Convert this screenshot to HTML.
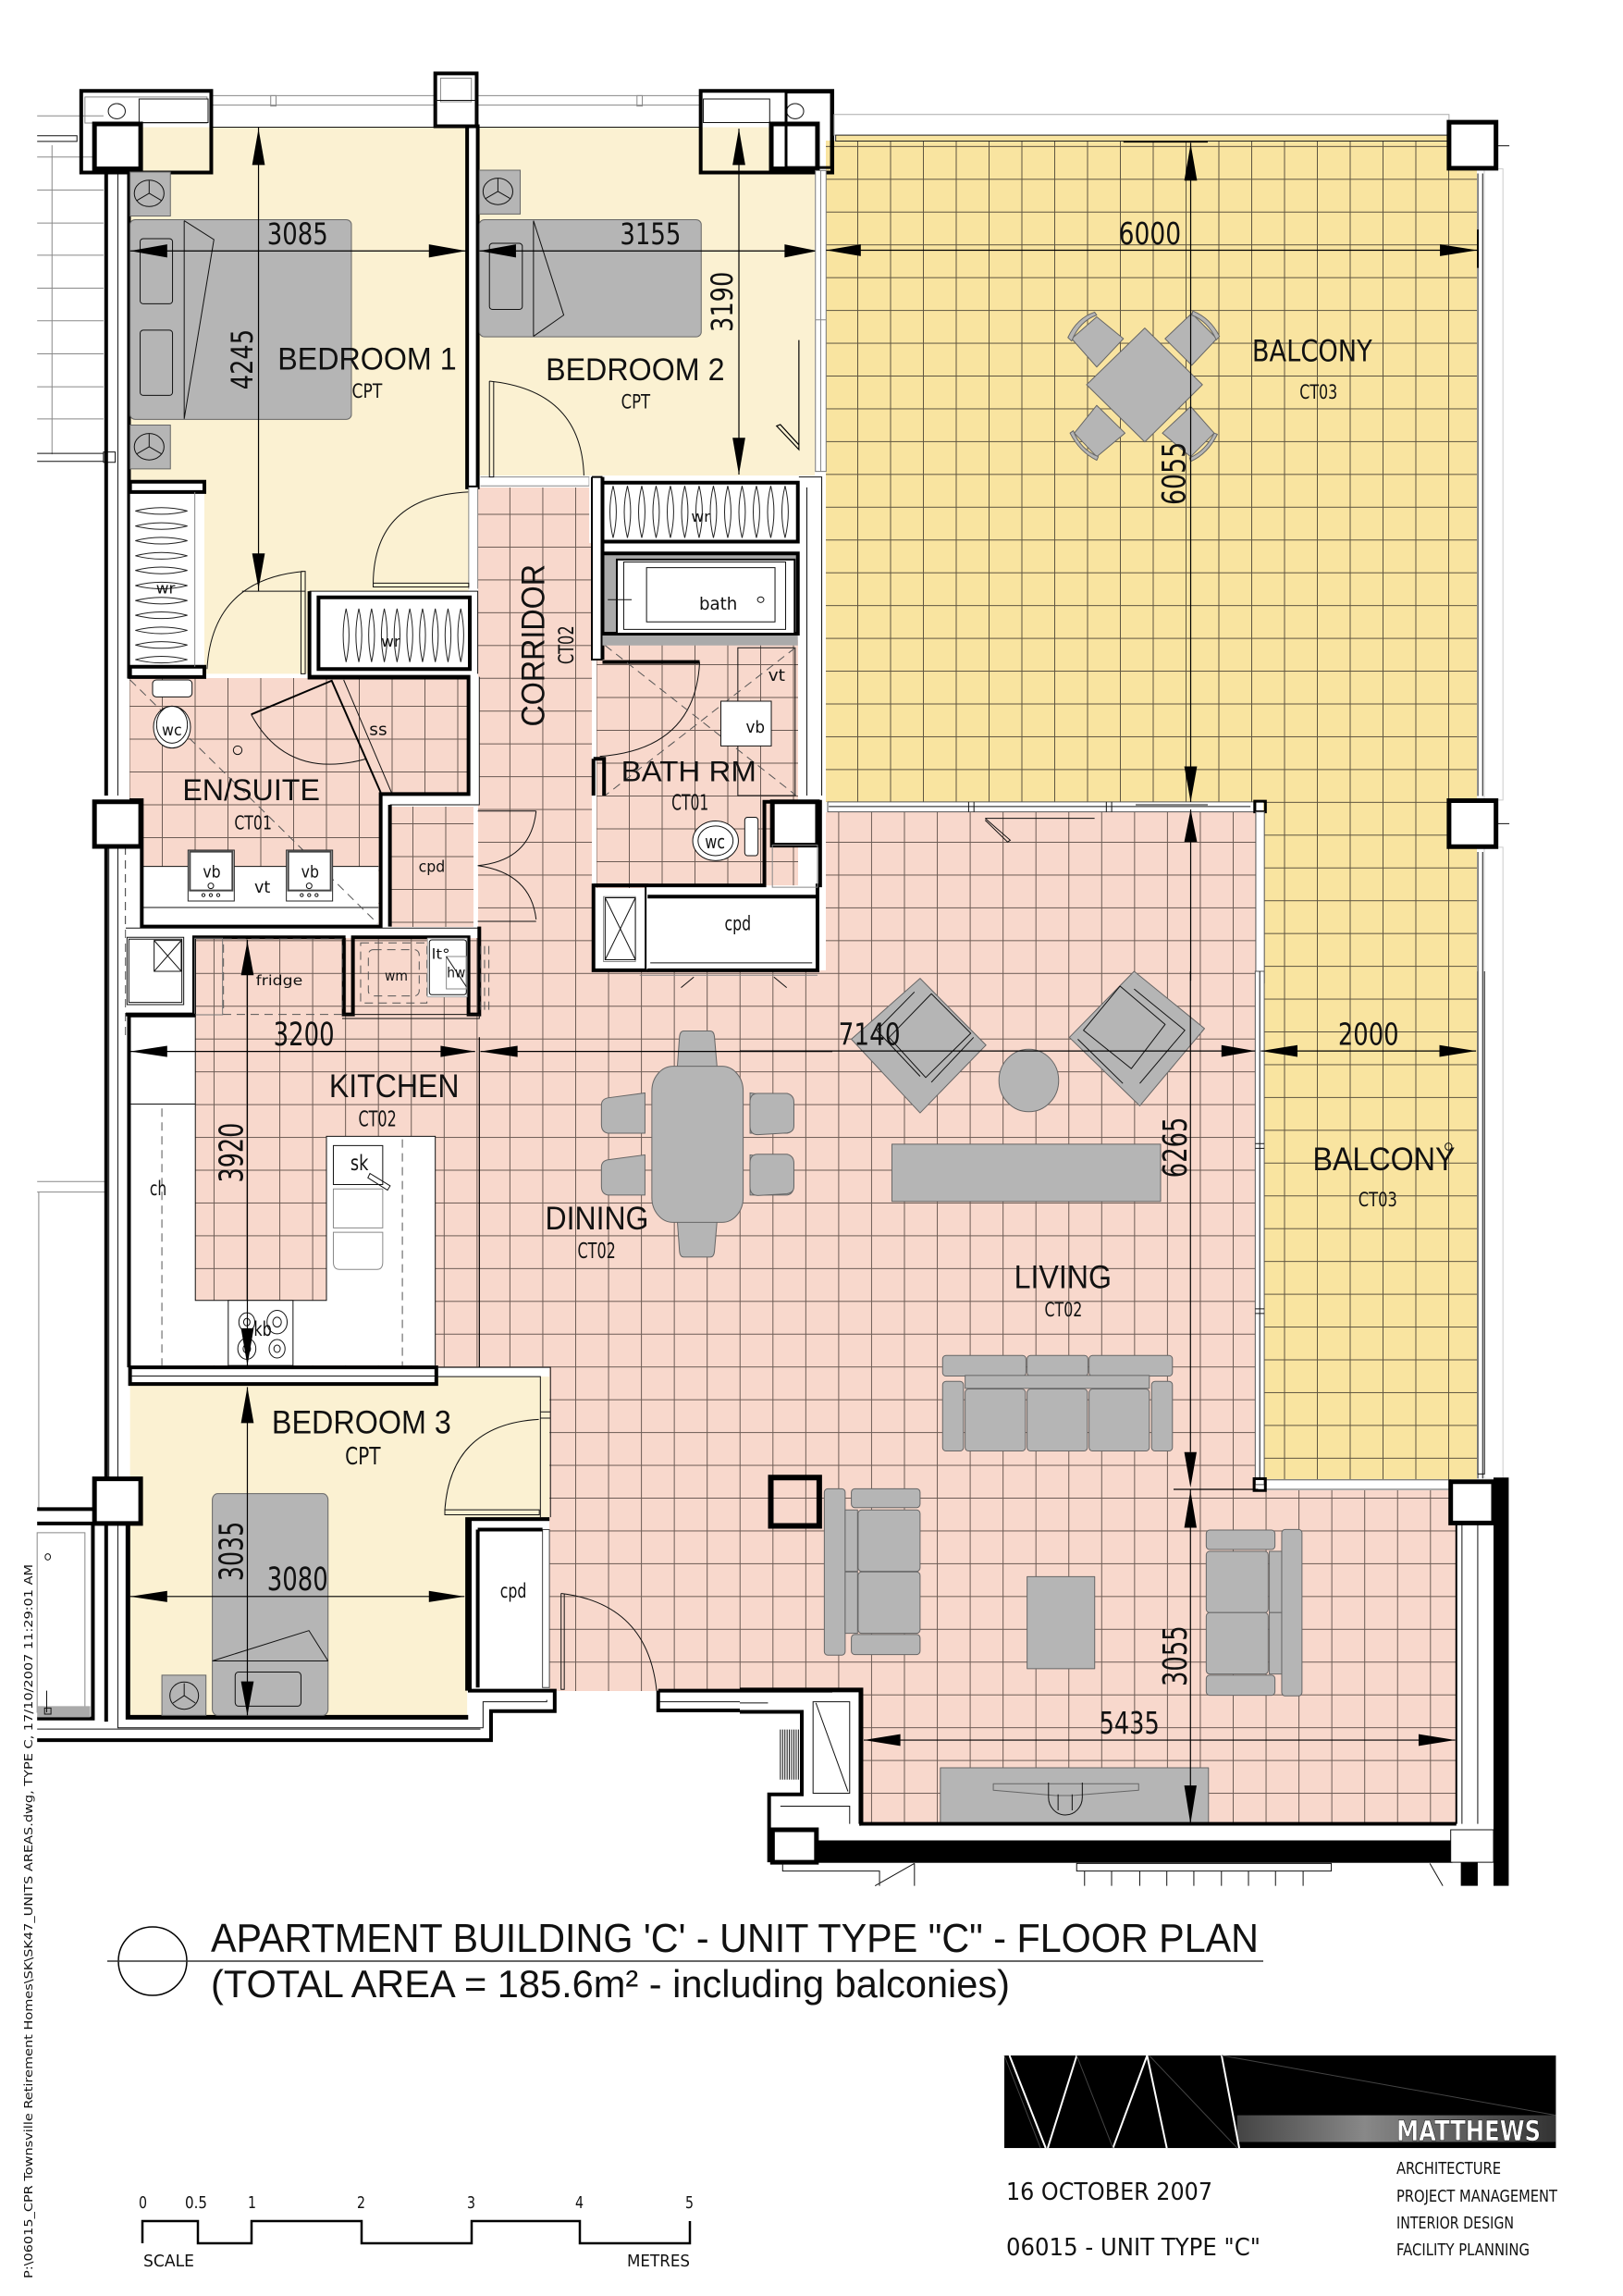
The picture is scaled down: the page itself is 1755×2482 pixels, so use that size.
<!DOCTYPE html>
<html><head><meta charset="utf-8"><style>
html,body{margin:0;padding:0;background:#fff}
svg{display:block}
svg *{vector-effect:non-scaling-stroke}
.n{fill:none}
.k{fill:none;stroke:#000;stroke-width:4}
.K{fill:none;stroke:#000;stroke-width:6}
.t{fill:none;stroke:#111;stroke-width:1}
.g{fill:none;stroke:#888;stroke-width:1}
.w{fill:#fff;stroke:#111;stroke-width:1}
.W{fill:#fff;stroke:#000;stroke-width:4}
.P{fill:#fff;stroke:#000;stroke-width:5}
.f{fill:#b5b5b5;stroke:#666;stroke-width:1}
.da{fill:none;stroke:#555;stroke-width:1;stroke-dasharray:9 6}
.a{fill:#000}
.l{fill:none;stroke:#000;stroke-width:1.2}
text{fill:#111}
.s{font-family:"Liberation Sans",sans-serif}
.d{font-family:"DejaVu Sans",sans-serif}
</style></head><body>
<svg xmlns="http://www.w3.org/2000/svg" width="1755" height="2482" viewBox="0 0 1755 2482">
<defs>
<pattern id="gB" patternUnits="userSpaceOnUse" x="927" y="193.3" width="35.5" height="35.45"><rect width="1" height="35.45" fill="#5f5540"/><rect width="35.5" height="1" fill="#5f5540"/></pattern>
<pattern id="gP" patternUnits="userSpaceOnUse" x="835.3" y="910" width="35.55" height="35.45"><rect width="1" height="35.45" fill="#6d5c55"/><rect width="35.55" height="1" fill="#6d5c55"/></pattern>
<pattern id="gE" patternUnits="userSpaceOnUse" x="175" y="763" width="35.5" height="35.5"><rect width="1" height="35.5" fill="#6d5c55"/><rect width="35.5" height="1" fill="#6d5c55"/></pattern>
<pattern id="gC" patternUnits="userSpaceOnUse" x="446" y="890" width="35.5" height="35.5"><rect width="1" height="35.5" fill="#6d5c55"/><rect width="35.5" height="1" fill="#6d5c55"/></pattern>
<pattern id="gR" patternUnits="userSpaceOnUse" x="680" y="718" width="35.5" height="35.5"><rect width="1" height="35.5" fill="#6d5c55"/><rect width="35.5" height="1" fill="#6d5c55"/></pattern>
<linearGradient id="lg" x1="0" x2="1" y1="0" y2="0"><stop offset="0" stop-color="#444"/><stop offset=".4" stop-color="#888"/><stop offset="1" stop-color="#333"/></linearGradient>
<path id="lh" d="M255 0Q304 -14 353 0Q304 14 255 0Z" fill="none" stroke="#222" stroke-width="1"/>
<path id="lv" d="M0 912Q-12 967 0 1022Q12 967 0 912Z" fill="none" stroke="#222" stroke-width="1"/>
<path id="lw" d="M0 1172Q-11 1228 0 1285Q11 1228 0 1172Z" fill="none" stroke="#222" stroke-width="1"/>
</defs>

<!-- base fills -->
<path d="M893 152H1597V1599H1366V867H893Z" fill="#F9E4A0"/>
<path d="M893 152H1597V1599H1366V867H893Z" fill="url(#gB)"/>
<path id="pk" d="M517 527H640V1049H893V878H1358V1611H1575V1972H931V1827H712V1828H594V1478H211V1014H517Z" fill="#F8D8CC"/>
<path d="M517 527H640V1049H893V878H1358V1611H1575V1972H931V1827H712V1828H594V1478H211V1014H517Z" fill="url(#gP)"/>
<path d="M140 733H507V858H412V1002H153V865H140Z" fill="#F8D8CC"/>
<path d="M140 733H507V858H412V1002H153V865H140Z" fill="url(#gE)"/>
<rect x="422" y="872" width="90" height="130" fill="#F8D8CC"/>
<rect x="422" y="872" width="90" height="130" fill="url(#gC)"/>
<rect x="645" y="692" width="218" height="268" fill="#F8D8CC"/>
<rect x="645" y="692" width="218" height="268" fill="url(#gR)"/>

<!-- Z1: top-left -->
<g transform="translate(0,60) scale(.574,.5102)">
<path d="M245 152H880V915H883V1135H580V1310H245Z" fill="#FBF1D2"/>
<rect x="900" y="152" width="635" height="738" fill="#FBF1D2"/>
<!-- outside balcony lines -->
<path class="g" d="M70 128H195M70 215H195M70 285H195M70 355H195M70 423H195M70 493H195M70 562H195M70 632H195M70 702H195M70 770H195M98 190V845"/>
<path class="t" d="M70 170H145V182H70M70 843H195V860H70"/>
<rect class="w" x="195" y="840" width="22" height="22"/>
<!-- exterior walls -->
<path class="k" d="M200 240V1568M243 240V1320"/>
<path class="t" d="M222 240V1568"/>
<!-- top strip -->
<path class="g" d="M398 85H820M398 105H820M900 85H1320M900 105H1320"/>
<rect class="g" x="510" y="85" width="10" height="22"/><rect class="g" x="1200" y="85" width="10" height="22"/>
<path class="t" d="M398 152H880M900 152H1320"/>
<rect class="k" x="153" y="75" width="245" height="173"/>
<rect class="g" x="160" y="88" width="230" height="55"/>
<rect class="w" x="262" y="92" width="130" height="50"/>
<circle class="t" cx="220" cy="118" r="16"/>
<rect class="P" x="178" y="145" width="87" height="95"/>
<rect class="k" x="820" y="38" width="78" height="112" fill="#fff"/>
<rect class="g" x="830" y="48" width="58" height="50"/>
<rect class="t" x="820" y="95" width="78" height="55"/>
<rect class="k" x="1320" y="75" width="248" height="173"/>
<rect class="w" x="1325" y="92" width="125" height="50"/>
<circle class="t" cx="1498" cy="118" r="16"/>
<rect class="P" x="1453" y="145" width="87" height="95"/>
<!-- partition -->
<rect class="W" x="880" y="150" width="20" height="765"/>
<rect fill="#fff" x="883" y="915" width="17" height="215"/>
<path class="g" d="M883 915V1130M900 915V1130"/>
<path class="g" d="M905 893H1110V912H905"/>
<!-- furniture bedrooms -->
<g>
<rect class="f" x="245" y="247" width="76" height="93"/><circle class="t" cx="281" cy="292" r="28"/><path class="t" d="M281 292V265M281 292L258 307M281 292L304 307"/>
<rect class="f" x="245" y="783" width="76" height="93"/><circle class="t" cx="281" cy="829" r="28"/><path class="t" d="M281 829V802M281 829L258 844M281 829L304 844"/>
<rect class="f" x="903" y="243" width="77" height="93"/><circle class="t" cx="938" cy="288" r="28"/><path class="t" d="M938 288V261M938 288L915 303M938 288L961 303"/>
<rect class="f" x="245" y="348" width="417" height="423" rx="10"/>
<path class="t" d="M347 350V770M347 350L403 390L347 770"/>
<rect class="t" x="264" y="388" width="61" height="138" rx="6"/><rect class="t" x="264" y="582" width="61" height="138" rx="6"/>
<rect class="f" x="903" y="348" width="418" height="248" rx="10"/>
<path class="t" d="M1005 350V595M1005 350L1062 550L1005 595"/>
<rect class="t" x="922" y="398" width="62" height="140" rx="6"/>
</g>
<!-- doors -->
<path class="t" d="M922 690V893H930V690M922 690Q1095 710 1100 890"/>
<path class="t" d="M703 1118H883V1126H703ZM703 1118Q705 935 882 925"/>
<path class="t" d="M567 1095V1310H575V1093H567M573 1093Q400 1110 390 1300"/>
<path class="l" d="M1505 603V835M1463 785L1505 835V825L1470 782Z"/>
<!-- wardrobe 1 -->
<rect x="245" y="903" width="140" height="415" fill="#fff"/>
<rect class="k" x="245" y="903" width="140" height="22"/><rect class="k" x="245" y="1295" width="140" height="22"/>
<path class="g" d="M367 925V1295"/>
<use href="#lh" y="965"/><use href="#lh" y="997"/><use href="#lh" y="1028"/><use href="#lh" y="1060"/><use href="#lh" y="1091"/><use href="#lh" y="1123"/><use href="#lh" y="1155"/><use href="#lh" y="1186"/><use href="#lh" y="1218"/><use href="#lh" y="1249"/><use href="#lh" y="1280"/>
<!-- wardrobe 2 -->
<rect x="583" y="1135" width="317" height="183" fill="#fff"/>
<path class="t" d="M456 1135H575M583 1135H900V1310"/>
<rect class="k" x="600" y="1148" width="285" height="152"/>
<path class="k" d="M583 1135V1318H885"/>
<use href="#lw" x="652"/><use href="#lw" x="676"/><use href="#lw" x="700"/><use href="#lw" x="724"/><use href="#lw" x="748"/><use href="#lw" x="772"/><use href="#lw" x="796"/><use href="#lw" x="820"/><use href="#lw" x="844"/><use href="#lw" x="868"/>
<!-- wr top -->
<rect x="1110" y="893" width="395" height="140" fill="#fff"/>
<rect class="k" x="1135" y="905" width="368" height="125"/>
<rect x="1115" y="893" width="20" height="387" fill="#fff"/>
<path class="k" d="M1135 893V1280" />
<path d="M1115 893H1135M1115 893V1280H1135" fill="none" stroke="#000" stroke-width="2"/>
<use href="#lv" x="1155"/><use href="#lv" x="1182"/><use href="#lv" x="1209"/><use href="#lv" x="1236"/><use href="#lv" x="1263"/><use href="#lv" x="1290"/><use href="#lv" x="1317"/><use href="#lv" x="1344"/><use href="#lv" x="1371"/><use href="#lv" x="1398"/><use href="#lv" x="1425"/><use href="#lv" x="1452"/><use href="#lv" x="1479"/>
<!-- bath -->
<rect x="1135" y="1055" width="368" height="195" fill="#aaa"/>
<rect class="k" x="1135" y="1055" width="368" height="170"/>
<rect x="1162" y="1068" width="335" height="157" fill="#fff" stroke="#000" stroke-width="2"/>
<rect class="t" x="1175" y="1073" width="305" height="143"/>
<rect class="t" x="1218" y="1085" width="242" height="115"/>
<circle class="t" cx="1433" cy="1153" r="6"/>
<path class="t" d="M1145 1153H1190"/>
<rect fill="#fff" x="1507" y="893" width="38" height="675"/>
<path class="t" d="M1505 893H1548V1568M1520 915V1568"/>
<rect class="t" x="1390" y="1255" width="108" height="313" fill="#fff"/>
<!-- dims -->
<path class="l" d="M487 152V1135M245 414H878M903 414H1540M1392 155V888"/>
<polygon class="a" points="245,414 315,400 315,428"/><polygon class="a" points="878,414 808,400 808,428"/>
<polygon class="a" points="903,414 972,400 972,428"/><polygon class="a" points="1540,414 1478,400 1478,428"/>
<polygon class="a" points="487,155 475,232 499,232"/><polygon class="a" points="487,1130 475,1055 499,1055"/>
<polygon class="a" points="1392,155 1380,232 1404,232"/><polygon class="a" points="1392,888 1380,810 1404,810"/>
<text class="d" x="503" y="400" font-size="62" textLength="115" lengthAdjust="spacingAndGlyphs">3085</text>
<text class="d" x="1168" y="400" font-size="62" textLength="115" lengthAdjust="spacingAndGlyphs">3155</text>
<text class="d" font-size="56" transform="translate(476,708) rotate(-90)" textLength="128" lengthAdjust="spacingAndGlyphs">4245</text>
<text class="d" font-size="56" transform="translate(1380,586) rotate(-90)" textLength="128" lengthAdjust="spacingAndGlyphs">3190</text>
<text class="s" x="523" y="665" font-size="67" textLength="337" lengthAdjust="spacingAndGlyphs">BEDROOM 1</text>
<text class="d" x="663" y="725" font-size="41" textLength="57" lengthAdjust="spacingAndGlyphs">CPT</text>
<text class="s" x="1028" y="688" font-size="67" textLength="337" lengthAdjust="spacingAndGlyphs">BEDROOM 2</text>
<text class="d" x="1170" y="748" font-size="41" textLength="55" lengthAdjust="spacingAndGlyphs">CPT</text>
<text class="s" font-size="62" transform="translate(1025,1422) rotate(-90)" textLength="344" lengthAdjust="spacingAndGlyphs">CORRIDOR</text>
<text class="d" font-size="39" transform="translate(1080,1290) rotate(-90)" textLength="82" lengthAdjust="spacingAndGlyphs">CT02</text>
<text class="d" x="294" y="1140" font-size="32" textLength="36" lengthAdjust="spacingAndGlyphs">wr</text>
<text class="d" x="1302" y="988" font-size="32" textLength="36" lengthAdjust="spacingAndGlyphs">wr</text>
<text class="d" x="718" y="1252" font-size="32" textLength="36" lengthAdjust="spacingAndGlyphs">wr</text>
<text class="d" x="1317" y="1174" font-size="36" textLength="72" lengthAdjust="spacingAndGlyphs">bath</text>
<!-- bath rm door -->
<path class="k" d="M1135 1285H1318" stroke-width="2"/>
<path class="t" d="M1318 1285Q1310 1470 1130 1485"/>
<path class="da" d="M1140 1250L1500 1568M1498 1255L1140 1568"/>
<rect class="w" x="1358" y="1368" width="95" height="95"/>
<text class="d" x="1447" y="1325" font-size="34" textLength="32" lengthAdjust="spacingAndGlyphs">vt</text>
<text class="d" x="1405" y="1435" font-size="34" textLength="36" lengthAdjust="spacingAndGlyphs">vb</text>
<path class="k" d="M1118 1490H1138V1568M1118 1490V1568"/>
<text class="s" x="1170" y="1538" font-size="62" textLength="255" lengthAdjust="spacingAndGlyphs">BATH RM</text>
</g>

<!-- Z6 ensuite & laundry -->
<g transform="translate(120,700) scale(.3333)">
<rect x="103" y="710" width="765" height="190" fill="#fff"/>
<path class="t" d="M103 710H868M103 843H868"/>
<rect x="1163" y="95" width="32" height="415" fill="#fff"/>
<path class="t" d="M1195 95V510H905"/>
<path class="k" d="M640 95H1160V475H875V905H100V495H60"/>
<path class="k" d="M905 510V905"/>
<path class="da" d="M62 105L865 895"/>
<rect x="48" y="910" width="1148" height="30" fill="#fff"/>
<path class="t" d="M48 910H1195"/>
<!-- toilet -->
<rect class="w" x="135" y="105" width="128" height="55" rx="12" fill="#fbe"/>
<ellipse class="w" cx="198" cy="258" rx="60" ry="68" fill="#fff"/>
<ellipse class="t" cx="198" cy="250" rx="50" ry="60"/>
<text class="d" x="165" y="285" font-size="50" textLength="65" lengthAdjust="spacingAndGlyphs">wc</text>
<circle class="t" cx="411" cy="333" r="14"/>
<!-- shower -->
<path class="k" d="M715 105L875 470" style="stroke-width:2"/>
<path class="t" d="M755 105L910 470"/>
<path class="k" d="M715 108L455 217" style="stroke-width:2"/>
<path class="t" d="M455 217Q570 430 825 362"/>
<text class="d" x="838" y="283" font-size="52" textLength="58" lengthAdjust="spacingAndGlyphs">ss</text>
<text class="s" x="232" y="495" font-size="98" textLength="446" lengthAdjust="spacingAndGlyphs">EN/SUITE</text>
<text class="d" x="400" y="590" font-size="60" textLength="122" lengthAdjust="spacingAndGlyphs">CT01</text>
<!-- sinks -->
<g>
<rect x="250" y="657" width="150" height="165" fill="#fff" stroke="#222" stroke-width="1"/>
<rect x="256" y="662" width="138" height="126" fill="#fff" stroke="#444" stroke-width="2"/>
<circle class="t" cx="324" cy="773" r="9"/><circle class="t" cx="300" cy="803" r="5"/><circle class="t" cx="324" cy="803" r="5"/><circle class="t" cx="348" cy="803" r="5"/>
<text class="d" x="298" y="745" font-size="52" textLength="58" lengthAdjust="spacingAndGlyphs">vb</text>
</g>
<g transform="translate(319,0)">
<rect x="250" y="657" width="150" height="165" fill="#fff" stroke="#222" stroke-width="1"/>
<rect x="256" y="662" width="138" height="126" fill="#fff" stroke="#444" stroke-width="2"/>
<circle class="t" cx="324" cy="773" r="9"/><circle class="t" cx="300" cy="803" r="5"/><circle class="t" cx="324" cy="803" r="5"/><circle class="t" cx="348" cy="803" r="5"/>
<text class="d" x="298" y="745" font-size="52" textLength="58" lengthAdjust="spacingAndGlyphs">vb</text>
</g>
<text class="d" x="465" y="795" font-size="52" textLength="52" lengthAdjust="spacingAndGlyphs">vt</text>
<text class="d" x="998" y="728" font-size="50" textLength="86" lengthAdjust="spacingAndGlyphs">cpd</text>
<!-- lower left cupboard -->
<rect x="48" y="938" width="222" height="250" fill="#fff"/>
<rect class="t" x="52" y="940" width="184" height="218"/>
<rect class="w" x="58" y="946" width="172" height="205"/>
<rect class="t" x="140" y="950" width="88" height="100"/><path class="t" d="M140 950L228 1050M228 950L140 1050"/>
<path class="k" d="M48 1190H270V940H755V1190H785V940H1160V1190H1195V905"/>
<path class="da" d="M47 645V1260"/>
<rect class="da" x="365" y="945" width="385" height="245"/>
<rect x="272" y="943" width="90" height="248" fill="none" stroke="#777"/>
<text class="d" x="470" y="1095" font-size="46" textLength="152" lengthAdjust="spacingAndGlyphs">fridge</text>
<rect class="da" x="810" y="958" width="215" height="195"/>
<rect class="da" x="835" y="980" width="165" height="150" rx="16"/>
<text class="d" x="888" y="1080" font-size="44" textLength="75" lengthAdjust="spacingAndGlyphs">wm</text>
<rect x="1027" y="943" width="128" height="190" fill="#fff" stroke="#aaa"/>
<rect class="t" x="1033" y="948" width="120" height="178" rx="8"/>
<rect class="g" x="1088" y="1002" width="65" height="105"/><path class="t" d="M1088 1002L1153 1100"/>
<text class="d" x="1040" y="1010" font-size="46" textLength="60" lengthAdjust="spacingAndGlyphs">lt°</text>
<text class="d" x="1090" y="1070" font-size="46" textLength="60" lengthAdjust="spacingAndGlyphs">hw</text>
<path class="da" d="M1200 968V1190M1212 968V1190M1226 968V1190"/>
<path class="t" d="M750 1190H1195V1203H750"/>
</g>

<!-- Z2 -->
<g transform="translate(0,850) scale(.574,.6696)">
<!-- exterior -->
<path class="g" d="M70 638H197M70 655H197M73 655V1165"/>
<path class="k" d="M70 1167H175M70 1190H175V1505H70M200 97V1118"/>
<path class="t" d="M222 97V1118M205 97V1118"/>
<path class="da" d="M236 97V225"/>
<rect class="g" x="70" y="1205" width="90" height="290"/>
<rect x="70" y="1485" width="100" height="18" fill="#aaa"/>
<circle class="t" cx="90" cy="1244" r="5"/>
<path class="t" d="M88 1460V1495"/><rect class="t" x="84" y="1488" width="12" height="10"/>
<path class="k" d="M200 1190V1510M70 1540H925V1493H1045V1460H885V1183H1035"/>
<path class="t" d="M222 1190V1520H910V1478H1030V1475M70 1522H905"/>
<!-- kitchen counters -->
<path d="M245 370H368V830H615V565H820V935H245Z" fill="#fff"/>
<path class="k" d="M243 370V938M240 370H368"/>
<path class="t" d="M368 370V830H615V565H820V935M245 513H368"/>
<path class="da" d="M305 520V935M758 570V935"/>
<text class="d" x="282" y="660" font-size="32" textLength="32" lengthAdjust="spacingAndGlyphs">ch</text>
<rect class="w" x="628" y="580" width="93" height="63"/><rect class="g" x="628" y="650" width="93" height="63"/>
<path class="g" d="M628 720H721V768Q721 780 710 780H640Q628 780 628 768Z"/>
<path class="t" d="M697 625L735 645L730 652L693 632Z"/>
<text class="d" x="660" y="620" font-size="34" textLength="34" lengthAdjust="spacingAndGlyphs">sk</text>
<rect class="w" x="430" y="830" width="122" height="105"/>
<circle class="t" cx="465" cy="865" r="15"/><circle class="t" cx="465" cy="865" r="6"/><circle class="t" cx="522" cy="865" r="19"/><circle class="t" cx="522" cy="865" r="8"/><circle class="t" cx="465" cy="908" r="17"/><circle class="t" cx="465" cy="908" r="7"/><circle class="t" cx="522" cy="908" r="15"/><circle class="t" cx="522" cy="908" r="6"/>
<text class="d" x="478" y="887" font-size="32" textLength="34" lengthAdjust="spacingAndGlyphs">kb</text>
<!-- bedroom 3 -->
<path d="M245 965H820V953H1035V1183H880V1500H245Z" fill="#FBF1D2"/>
<rect class="W" x="245" y="938" width="577" height="27"/>
<path class="t" d="M245 952H820"/>
<path class="t" d="M822 938H1037V1180M822 953H1018V1180M1018 1010H1037M1018 1020H1037"/>
<path class="t" d="M838 1168H1016V1176H838ZM838 1168Q850 1030 1015 1022"/>
<rect x="900" y="1200" width="122" height="255" fill="#fff"/>
<rect x="1022" y="1200" width="13" height="255" fill="#fff" stroke="#444"/>
<path class="k" d="M1035 1183H880V1460M900 1200H1022M900 1200V1455"/>
<text class="d" x="942" y="1310" font-size="32" textLength="50" lengthAdjust="spacingAndGlyphs">cpd</text>
<path d="M241 1118V1503H882" fill="none" stroke="#000" stroke-width="5"/>
<rect class="P" x="178" y="1118" width="87" height="72"/>
<rect class="P" x="178" y="25" width="87" height="72"/>
<!-- furniture -->
<rect class="f" x="305" y="1435" width="83" height="65"/><ellipse class="t" cx="347" cy="1468" rx="27" ry="22"/><path class="t" d="M347 1468V1448M347 1468L326 1480M347 1468L368 1480"/>
<rect class="f" x="400" y="1142" width="218" height="358" rx="10"/>
<path class="t" d="M400 1412L582 1363L618 1412M400 1412H618"/>
<rect class="t" x="443" y="1430" width="124" height="55" rx="6"/>
<g>
<path class="f" d="M1288 395H1338Q1345 395 1346 405L1352 465H1275L1280 405Q1281 395 1288 395Z"/>
<path class="f" d="M1275 690H1352L1346 750Q1345 760 1338 760H1288Q1281 760 1280 750Z"/>
<path class="f" d="M1215 495V560L1145 560Q1133 558 1133 546V515Q1133 505 1145 503Z"/><path class="f" d="M1215 595V660L1145 660Q1133 658 1133 646V615Q1133 605 1145 603Z"/>
<path class="f" d="M1413 495V560L1483 560Q1495 558 1495 546V515Q1495 505 1483 503Z"/><path class="f" d="M1413 595V660L1483 660Q1495 658 1495 646V615Q1495 605 1483 603Z"/>
<rect class="f" x="1228" y="452" width="172" height="252" rx="40"/>
</g>
<!-- wet area -->
<rect class="k" x="1118" y="160" width="100" height="137"/>
<rect class="g" x="1137" y="178" width="60" height="105"/><path class="t" d="M1140 180L1197 280M1197 180L1140 280M1140 180H1197V280H1140Z"/>
<rect x="1218" y="160" width="322" height="135" fill="#fff"/>
<path class="k" d="M1118 160H1440V25H1545V160H1540V297H1220M1220 178H1538"/>
<path class="t" d="M1225 285H1530"/>
<path class="g" d="M1205 305H1540"/><path class="t" d="M1283 325L1307 308M1458 308L1482 325"/>
<text class="d" x="1365" y="232" font-size="32" textLength="50" lengthAdjust="spacingAndGlyphs">cpd</text>
<ellipse class="w" cx="1348" cy="88" rx="43" ry="32"/><ellipse class="t" cx="1348" cy="88" rx="33" ry="24"/>
<rect class="w" x="1403" y="50" width="25" height="62" rx="5"/>
<text class="d" x="1328" y="100" font-size="30" textLength="38" lengthAdjust="spacingAndGlyphs">wc</text>
<text class="d" x="1265" y="38" font-size="34" textLength="70" lengthAdjust="spacingAndGlyphs">CT01</text>
<rect class="P" x="1455" y="25" width="85" height="70"/>
<rect class="g" x="1455" y="95" width="85" height="68" fill="#fff"/>
<!-- doors corridor -->
<path class="t" d="M900 40H1010M900 128Q1000 120 1010 40M900 128Q1000 140 1010 215M900 218H1010"/>
<path class="t" d="M1057 1303V1458H1063V1303M1057 1303Q1220 1320 1237 1460"/>
<path class="k" d="M1240 1460H1568M1240 1460V1492H1510"/>
<path class="t" d="M1242 1478H1520"/>
<!-- dims -->
<path class="l" d="M245 428H895M905 428H1568M466 248V935M466 970V1500M245 1308H875M903 405V938"/>
<polygon class="a" points="245,428 315,419 315,437"/><polygon class="a" points="895,428 830,419 830,437"/><polygon class="a" points="905,428 975,419 975,437"/>
<polygon class="a" points="466,250 454,305 478,305"/><polygon class="a" points="466,935 454,875 478,875"/>
<polygon class="a" points="466,970 454,1028 478,1028"/><polygon class="a" points="466,1500 454,1445 478,1445"/>
<polygon class="a" points="245,1308 315,1299 315,1317"/><polygon class="a" points="875,1308 808,1299 808,1317"/>
<text class="d" x="515" y="418" font-size="52" textLength="115" lengthAdjust="spacingAndGlyphs">3200</text>
<text class="d" x="503" y="1298" font-size="52" textLength="115" lengthAdjust="spacingAndGlyphs">3080</text>
<text class="d" font-size="62" transform="translate(457,640) rotate(-90)" textLength="97" lengthAdjust="spacingAndGlyphs">3920</text>
<text class="d" font-size="62" transform="translate(457,1283) rotate(-90)" textLength="96" lengthAdjust="spacingAndGlyphs">3035</text>
<text class="s" x="620" y="502" font-size="53" textLength="245" lengthAdjust="spacingAndGlyphs">KITCHEN</text>
<text class="d" x="675" y="549" font-size="34" textLength="72" lengthAdjust="spacingAndGlyphs">CT02</text>
<text class="s" x="1027" y="715" font-size="53" textLength="195" lengthAdjust="spacingAndGlyphs">DINING</text>
<text class="d" x="1088" y="762" font-size="34" textLength="72" lengthAdjust="spacingAndGlyphs">CT02</text>
<text class="s" x="512" y="1045" font-size="53" textLength="338" lengthAdjust="spacingAndGlyphs">BEDROOM 3</text>
<text class="d" x="650" y="1095" font-size="38" textLength="67" lengthAdjust="spacingAndGlyphs">CPT</text>
</g>

<!-- Z3 balcony -->
<g transform="translate(850,60) scale(.5772,.6378)">
<rect x="90" y="100" width="1152" height="35" fill="#fff" stroke="#aaa"/>
<rect x="93" y="135" width="1149" height="10" fill="#F9E4A0" stroke="#222"/>
<path class="k" d="M632 146H790" style="stroke-width:2"/>
<rect x="1308" y="192" width="35" height="1070" fill="#fff" stroke="#ccc"/>
<rect x="1308" y="1342" width="35" height="1070" fill="#fff" stroke="#ccc"/>
<path class="t" d="M1296 200V1255M1305 200V1255M1296 1350V2412M1305 1350V2412M1330 153H1355M1330 1302H1355"/>
<path class="k" d="M1296 295V360" style="stroke-width:2"/>
<rect x="55" y="195" width="20" height="510" fill="#fff" stroke="#777"/>
<path class="g" d="M65 195V705M55 448H75"/>
<rect class="k" x="0" y="62" width="85" height="128" style="stroke-width:3"/>
<rect x="78" y="1265" width="802" height="17" fill="#fff" stroke="#555"/>
<path class="t" d="M342 1265V1282M352 1265V1282M600 1265V1282M610 1265V1282M80 1273H870M655 1270H790"/>
<rect class="k" x="878" y="1264" width="20" height="18" fill="#fff" style="stroke-width:3"/>
<path class="t" d="M373 1293L420 1330L415 1333L373 1296M373 1293H578"/>
<rect class="P" x="1242" y="113" width="88" height="78"/>
<rect class="P" x="1242" y="1263" width="88" height="78"/>
<rect x="880" y="1282" width="16" height="290" fill="#fff" stroke="#555"/>
<!-- table -->
<g stroke-linejoin="round">
<polygon class="f" points="582,443 632,480 582,528 535,480"/><path class="f" d="M528 478Q545 445 578 435L582 440Q550 450 535 484Z"/>
<polygon class="f" points="760,437 807,480 760,525 710,480"/><path class="f" d="M812 476Q795 445 762 433L760 440Q790 450 806 482Z"/>
<polygon class="f" points="582,593 635,640 582,680 540,640"/><path class="f" d="M532 640Q550 672 582 686L585 680Q552 668 538 636Z"/>
<polygon class="f" points="758,595 802,640 758,680 705,640"/><path class="f" d="M808 642Q790 675 758 688L756 682Q786 670 802 640Z"/>
<polygon class="f" points="672,462 780,558 672,655 563,558"/>
</g>
<path class="l" d="M758 148V1265M75 330H1295M758 1278V1568"/>
<polygon class="a" points="75,330 140,320 140,340"/><polygon class="a" points="1295,330 1225,320 1225,340"/>
<polygon class="a" points="758,150 746,212 770,212"/><polygon class="a" points="758,1265 746,1205 770,1205"/><polygon class="a" points="758,1278 746,1333 770,1333"/>
<text class="d" x="623" y="320" font-size="52" textLength="117" lengthAdjust="spacingAndGlyphs">6000</text>
<text class="d" font-size="60" transform="translate(748,762) rotate(-90)" textLength="107" lengthAdjust="spacingAndGlyphs">6055</text>
<text class="d" x="873" y="518" font-size="50" textLength="225" lengthAdjust="spacingAndGlyphs">BALCONY</text>
<text class="d" x="962" y="582" font-size="34" textLength="71" lengthAdjust="spacingAndGlyphs">CT03</text>
</g>

<!-- Z4 -->
<g transform="translate(800,1050) scale(.6091,.6378)">
<rect x="915" y="0" width="16" height="870" fill="#fff" stroke="#555"/>
<path class="t" d="M915 292H931M915 300H931M915 572H931M915 580H931M923 0V860"/>
<rect x="932" y="862" width="330" height="16" fill="#fff" stroke="#555"/>
<rect class="k" x="913" y="860" width="20" height="20" fill="#fff" style="stroke-width:3"/>
<path class="t" d="M1310 0V852H1322V0"/>
<g stroke-linejoin="round">
<polygon class="f" points="320,12 437,125 320,240 198,115"/>
<polygon class="t" points="340,38 410,105 330,180 265,112"/><path class="t" d="M310 35L243 100L320 178M415 112L340 188"/>
<polygon class="f" points="700,0 825,97 710,228 585,112"/>
<polygon class="t" points="675,25 755,90 695,165 610,100"/><path class="t" d="M700 30L790 100L710 190M600 115L680 190"/>
<circle class="f" cx="513" cy="185" r="53"/>
<path class="f" d="M32 207H84Q96 210 96 222V262Q96 272 84 274L32 277Q18 277 18 262V222Q18 207 32 207Z"/><path class="f" d="M32 310H84Q96 313 96 325V365Q96 375 84 377L32 380Q18 380 18 365V325Q18 310 32 310Z"/>
<rect class="f" x="270" y="293" width="477" height="97"/>
<rect class="f" x="360" y="651" width="148" height="35" rx="6"/><rect class="f" x="510" y="651" width="108" height="35" rx="6"/><rect class="f" x="620" y="651" width="148" height="35" rx="6"/>
<rect class="f" x="400" y="685" width="327" height="22"/>
<rect class="f" x="360" y="695" width="37" height="118" rx="6"/><rect class="f" x="731" y="695" width="37" height="118" rx="6"/>
<rect class="f" x="400" y="708" width="107" height="105" rx="6"/><rect class="f" x="510" y="708" width="107" height="105" rx="6"/><rect class="f" x="620" y="708" width="107" height="105" rx="6"/>
<rect class="f" x="150" y="877" width="37" height="282" rx="6"/><rect class="f" x="198" y="877" width="122" height="32" rx="6"/><rect class="f" x="198" y="1124" width="122" height="34" rx="6"/>
<rect class="f" x="187" y="913" width="22" height="104"/><rect class="f" x="187" y="1018" width="22" height="104"/>
<rect class="f" x="210" y="913" width="110" height="104" rx="6"/><rect class="f" x="210" y="1018" width="110" height="104" rx="6"/>
<rect class="f" x="962" y="946" width="36" height="282" rx="6"/><rect class="f" x="828" y="947" width="122" height="33" rx="6"/><rect class="f" x="828" y="1193" width="122" height="34" rx="6"/>
<rect class="f" x="940" y="983" width="22" height="104"/><rect class="f" x="940" y="1087" width="22" height="104"/>
<rect class="f" x="828" y="983" width="110" height="104" rx="6"/><rect class="f" x="828" y="1087" width="110" height="104" rx="6"/>
<rect class="f" x="510" y="1026" width="120" height="156"/>
<rect class="f" x="356" y="1350" width="476" height="95"/>
<polygon class="f" points="450,1377 708,1377 708,1388 590,1397 560,1397 450,1388"/>
<path class="t" d="M548 1400A30 30 0 0 0 608 1400M548 1400V1375M608 1400V1375M565 1395V1422M590 1395V1422"/>
</g>
<rect class="K" x="55" y="858" width="86" height="82" fill="none"/>
<!-- lower walls -->
<path class="K" d="M0 1218H215V1445H1272" style="stroke-width:4"/>
<rect x="0" y="1224" width="212" height="286" fill="#fff"/>
<path class="K" d="M0 1218H215V1445" style="stroke-width:5"/>
<path class="k" d="M0 1255H110V1395H52V1510"/>
<rect class="w" x="130" y="1238" width="65" height="155"/><path class="t" d="M135 1240L192 1390"/>
<path class="t" d="M72 1285V1370M76 1285V1370M80 1285V1370M84 1285V1370M88 1285V1370M92 1285V1370M96 1285V1370M100 1285V1370M104 1285V1370M0 1240H50M72 1415H195V1445"/>
<rect x="215" y="1448" width="1060" height="25" fill="#fff"/>
<rect x="135" y="1473" width="1130" height="38" fill="#000"/>
<rect x="1272" y="935" width="40" height="510" fill="#fff"/>
<path class="t" d="M1272 935V1445M1282 935V1445M1310 935V1445"/>
<path class="k" d="M1272 938V1445" style="stroke-width:2"/>
<rect x="1312" y="860" width="26" height="600" fill="#fff"/>
<rect x="1338" y="858" width="27" height="692" fill="#000"/>
<rect x="1280" y="1510" width="30" height="40" fill="#000"/>
<rect class="P" x="1262" y="865" width="76" height="70"/>
<rect class="P" x="58" y="1455" width="78" height="55"/>
<rect class="w" x="1262" y="1455" width="76" height="55"/>
<path class="t" d="M598 1525H1050V1512H598ZM612 1525V1550M660 1525V1550M710 1525V1550M758 1525V1550M806 1525V1550M855 1525V1550M903 1525V1550M951 1525V1550M1000 1525V1550M76 1512V1525H248V1550M90 1525H248M240 1550L310 1512M310 1512V1550M1225 1512L1248 1550"/>
<!-- dims -->
<path class="l" d="M0 135H915M925 135H1307M800 0V815M800 878V1445M770 878H920M220 1303H1270M770 1445H830"/>
<polygon class="a" points="915,135 855,125 855,145"/><polygon class="a" points="925,135 990,125 990,145"/><polygon class="a" points="1307,135 1242,125 1242,145"/>
<polygon class="a" points="800,875 789,815 811,815"/><polygon class="a" points="800,880 789,943 811,943"/><polygon class="a" points="800,1445 789,1380 811,1380"/>
<polygon class="a" points="220,1303 285,1293 285,1313"/><polygon class="a" points="1270,1303 1205,1293 1205,1313"/>
<text class="d" x="175" y="125" font-size="52" textLength="110" lengthAdjust="spacingAndGlyphs">7140</text>
<text class="d" x="1062" y="125" font-size="52" textLength="108" lengthAdjust="spacingAndGlyphs">2000</text>
<text class="d" x="638" y="1292" font-size="52" textLength="107" lengthAdjust="spacingAndGlyphs">5435</text>
<text class="d" font-size="58" transform="translate(793,350) rotate(-90)" textLength="103" lengthAdjust="spacingAndGlyphs">6265</text>
<text class="d" font-size="58" transform="translate(793,1212) rotate(-90)" textLength="103" lengthAdjust="spacingAndGlyphs">3055</text>
<text class="s" x="1017" y="337" font-size="55" textLength="253" lengthAdjust="spacingAndGlyphs">BALCONY</text>
<circle class="t" cx="1258" cy="297" r="6"/>
<text class="d" x="1098" y="398" font-size="34" textLength="69" lengthAdjust="spacingAndGlyphs">CT03</text>
<text class="s" x="487" y="537" font-size="55" textLength="173" lengthAdjust="spacingAndGlyphs">LIVING</text>
<text class="d" x="541" y="585" font-size="34" textLength="67" lengthAdjust="spacingAndGlyphs">CT02</text>
</g>

<!-- title block -->
<circle cx="165" cy="2120" r="37" fill="none" stroke="#000" stroke-width="1.5"/>
<path d="M116 2120H1366" stroke="#333" stroke-width="1.5"/>
<text class="s" x="228" y="2110" font-size="44" textLength="1133" lengthAdjust="spacingAndGlyphs">APARTMENT BUILDING 'C' - UNIT TYPE "C" - FLOOR PLAN</text>
<text class="s" x="228" y="2159" font-size="42" textLength="864" lengthAdjust="spacingAndGlyphs">(TOTAL AREA = 185.6m² - including balconies)</text>
<path d="M154 2425V2401H214V2425H272V2401H391V2425H510V2401H627V2425H746V2401" fill="none" stroke="#000" stroke-width="2.5"/>
<g class="d" font-size="18">
<text x="150" y="2387" textLength="9" lengthAdjust="spacingAndGlyphs">0</text><text x="200" y="2387" textLength="24" lengthAdjust="spacingAndGlyphs">0.5</text><text x="268" y="2387" textLength="9" lengthAdjust="spacingAndGlyphs">1</text><text x="386" y="2387" textLength="9" lengthAdjust="spacingAndGlyphs">2</text><text x="505" y="2387" textLength="9" lengthAdjust="spacingAndGlyphs">3</text><text x="622" y="2387" textLength="9" lengthAdjust="spacingAndGlyphs">4</text><text x="741" y="2387" textLength="9" lengthAdjust="spacingAndGlyphs">5</text>
<text x="155" y="2450" textLength="55" lengthAdjust="spacingAndGlyphs">SCALE</text>
<text x="678" y="2450" textLength="68" lengthAdjust="spacingAndGlyphs">METRES</text>
</g>
<g transform="translate(1086,2222) scale(1.119,.328) translate(-970,-515)">
<rect x="970" y="515" width="533" height="305" fill="#000"/>
<rect x="1195" y="712" width="308" height="88" fill="url(#lg)"/>
<path d="M975 515L1010 820M1040 515L1012 820M1108 515L1075 820M1108 515L1127 820M1180 515L1197 820" stroke="#fff" stroke-width="2" fill="none"/>
<path d="M1040 515L1075 820M1110 515L1195 820M970 515L1005 820M1180 515L1503 712" stroke="#444" stroke-width="1" fill="none"/>
</g>
<text class="d" x="1510" y="2314" font-size="30" font-weight="bold" style="fill:#fff;stroke:#000;stroke-width:.5" textLength="156" lengthAdjust="spacingAndGlyphs">MATTHEWS</text>
<g class="d">
<text x="1088" y="2378" font-size="26" textLength="223" lengthAdjust="spacingAndGlyphs">16 OCTOBER 2007</text>
<text x="1088" y="2438" font-size="26" textLength="275" lengthAdjust="spacingAndGlyphs">06015 - UNIT TYPE "C"</text>
<text x="1510" y="2350" font-size="18" textLength="113" lengthAdjust="spacingAndGlyphs">ARCHITECTURE</text>
<text x="1510" y="2380" font-size="18" textLength="174" lengthAdjust="spacingAndGlyphs">PROJECT MANAGEMENT</text>
<text x="1510" y="2409" font-size="18" textLength="127" lengthAdjust="spacingAndGlyphs">INTERIOR DESIGN</text>
<text x="1510" y="2438" font-size="18" textLength="144" lengthAdjust="spacingAndGlyphs">FACILITY PLANNING</text>
</g>
<text class="d" font-size="12" transform="translate(35,2463) rotate(-90)" textLength="772" lengthAdjust="spacingAndGlyphs">P:\06015_CPR Townsville Retirement Homes\SK\SK47_UNITS AREAS.dwg, TYPE C, 17/10/2007 11:29:01 AM</text>
</svg>
</body></html>
